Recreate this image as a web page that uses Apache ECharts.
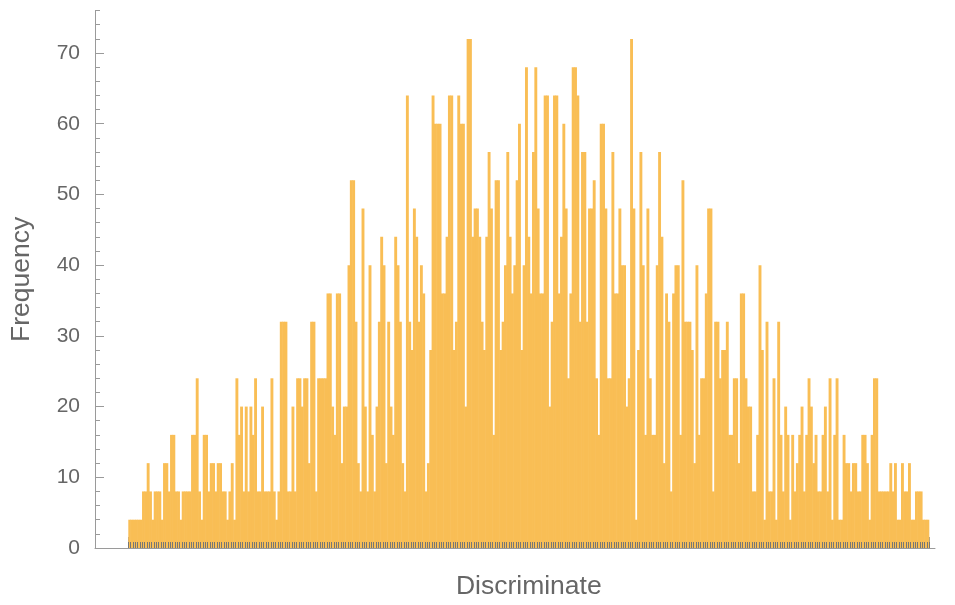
<!DOCTYPE html>
<html><head><meta charset="utf-8">
<script src="https://cdn.jsdelivr.net/npm/echarts@6/dist/echarts.min.js"></script>
<style>html,body{margin:0;padding:0;background:#fff}#c{width:955px;height:605px}</style>
</head><body><div id="c"></div>
<script>
// Histogram bin frequencies (left to right)
const frequency = [
 4,4,4,4,4,4,8,8,12,8,
 4,8,8,8,4,12,12,8,16,16,
 8,8,4,8,8,8,8,16,16,24,
 8,4,16,16,8,12,12,8,12,12,
 8,8,4,8,12,4,24,16,20,8,
 20,8,20,16,24,8,8,20,8,8,
 8,24,8,4,8,32,32,32,8,8,
 20,8,24,24,20,24,24,12,32,32,
 8,24,24,24,24,36,36,20,16,36,
 36,12,20,20,40,52,52,32,12,8,
 48,20,8,40,16,8,20,32,44,40,
 12,32,20,16,44,40,32,12,8,64,
 32,28,48,44,32,40,36,8,12,28,
 64,60,60,60,36,36,44,64,64,28,
 32,64,60,60,20,72,72,44,48,48,
 44,32,28,44,56,48,16,52,52,28,
 32,40,56,44,36,40,52,60,28,40,
 68,44,36,56,68,48,36,36,64,64,
 20,32,64,64,36,44,60,48,24,36,
 68,68,64,32,56,56,32,48,48,52,
 24,16,60,60,48,24,24,56,36,36,
 48,40,40,20,24,72,48,4,28,56,
 40,16,48,24,16,16,40,56,44,12,
 36,32,8,36,40,40,16,52,32,32,
 32,28,12,40,16,24,24,36,48,48,
 8,32,32,24,28,28,32,16,16,24,
 24,12,36,36,24,20,20,8,8,16,
 40,28,4,32,8,8,24,4,32,16,
 8,20,16,4,16,8,12,16,20,8,
 16,24,20,12,16,8,8,16,20,8,
 24,4,16,24,4,4,16,12,12,8,
 12,12,8,8,16,16,12,4,16,24,
 24,8,8,8,8,8,12,8,12,4,
 4,12,8,8,12,4,4,8,8,8,
 4,4,4
];
const binLabels = frequency.map((_, i) => String(i + 1));
const yMajorTicks = [0, 10, 20, 30, 40, 50, 60, 70];
const yMaxAxis = 76;
const yMaxMajor = 70;
const xAxisTitle = 'Discriminate';
const yAxisTitle = 'Frequency';

const barColor = '#F9BE55';
const axisGray = '#9a9a9a';
const textGray = '#666666';
const font = '"Liberation Sans", Arial, Helvetica, sans-serif';
const plotBottom = 57;
const topFull = 10.6;
const topMajor = 53.0;
const barsLeft = 128.3, barsRight = 955 - 929.3;

const chart = echarts.init(document.getElementById('c'), null, {renderer: 'canvas'});
chart.setOption({
  animation: false,
  backgroundColor: '#ffffff',
  textStyle: {fontFamily: font},
  grid: [
    {left: 95, right: 20, top: topFull, bottom: plotBottom},
    {left: 95, right: 20, top: topMajor, bottom: plotBottom},
    {left: barsLeft, right: barsRight, top: topFull, bottom: plotBottom},
    {left: barsLeft, right: barsRight, top: topFull, bottom: plotBottom}
  ],
  xAxis: [
    {gridIndex: 0, type: 'value', min: 0, max: 1, axisLine: {show: true, lineStyle: {color: axisGray, width: 1}},
     axisTick: {show: false}, axisLabel: {show: false}, splitLine: {show: false}},
    {gridIndex: 1, type: 'value', min: 0, max: 1, show: false},
    {gridIndex: 2, type: 'category', data: binLabels, boundaryGap: true, z: 5,
     axisLine: {show: false},
     axisTick: {show: true, inside: true, length: 6, interval: 0, lineStyle: {color: '#777777', width: 1}},
     axisLabel: {show: false}, splitLine: {show: false}},
    {gridIndex: 3, type: 'value', min: 0, max: 1, interval: 1,
     axisLine: {show: false},
     axisTick: {show: true, inside: false, length: 11, lineStyle: {color: axisGray, width: 1}},
     axisLabel: {show: false}, splitLine: {show: false},
     name: xAxisTitle, nameLocation: 'middle', nameGap: 36,
     nameTextStyle: {fontSize: 26.5, color: textGray, fontFamily: font}}
  ],
  yAxis: [
    {gridIndex: 0, type: 'value', min: 0, max: yMaxAxis, interval: 2,
     axisLine: {show: true, lineStyle: {color: axisGray, width: 1}},
     axisTick: {show: true, inside: true, length: 5, lineStyle: {color: axisGray, width: 1}},
     axisLabel: {show: false}, splitLine: {show: false},
     name: yAxisTitle, nameLocation: 'middle', nameRotate: 90, nameGap: 60,
     nameTextStyle: {fontSize: 26.5, color: textGray, fontFamily: font}},
    {gridIndex: 1, type: 'value', min: 0, max: yMaxMajor, interval: 10,
     axisLine: {show: false},
     axisTick: {show: true, inside: true, length: 9, lineStyle: {color: axisGray, width: 1}},
     axisLabel: {show: true, fontSize: 21, color: textGray, margin: 15, fontFamily: font,
       formatter: v => yMajorTicks.includes(v) ? String(v) : ''},
     splitLine: {show: false}},
    {gridIndex: 2, type: 'value', min: 0, max: yMaxAxis, show: false},
    {gridIndex: 3, type: 'value', min: 0, max: yMaxAxis, show: false}
  ],
  series: [{
    type: 'bar', xAxisIndex: 2, yAxisIndex: 2, data: frequency,
    barWidth: 2.9, barGap: '0%',
    itemStyle: {color: barColor}, z: 2
  }]
});
</script></body></html>
